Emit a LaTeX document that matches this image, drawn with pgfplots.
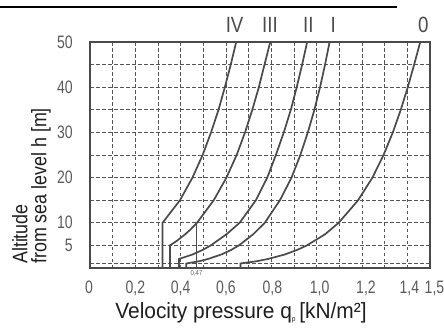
\documentclass[border=0pt]{standalone}
\usepackage{fontspec}
\setmainfont{Liberation Sans}[FakeStretch=0.85]
\newfontfamily\tickfont{Liberation Sans}[FakeStretch=0.78]
\newfontfamily\xlabfont{Liberation Sans}[FakeStretch=0.95]
\usepackage{pgfplots}
\pgfplotsset{compat=1.18}
\definecolor{ink}{HTML}{4A4A4A}
\definecolor{gridc}{HTML}{555555}
\definecolor{lbl}{HTML}{5A5A5A}
\definecolor{dark}{HTML}{1E1E1E}
\tikzset{curve/.style={draw=ink, line width=1.7bp, mark=none}}
\newcommand{\sh}[2]{\makebox[0pt]{\hspace*{#1}#2}}
\begin{document}
\begin{tikzpicture}
\useasboundingbox (-90bp,-61bp) rectangle (354bp,268bp);
\begin{axis}[
  scale only axis, width=340bp, height=226bp,
  xmin=0, xmax=1.5, ymin=0, ymax=50,
  clip=false,
  axis line style={draw=ink, line width=1.5bp},
  xtick={0,0.2,0.4,0.6,0.8,1.0,1.2,1.4,1.5},
  xticklabels={\sh{-2bp}{0},\sh{0bp}{0,2},\sh{0bp}{0,4},\sh{0bp}{0,6},\sh{2bp}{0,8},\sh{6bp}{1,0},\sh{8bp}{1,2},\sh{4bp}{1,4},\sh{9bp}{1,5}},
  minor xtick={0.1,0.3,0.5,0.7,0.9,1.1,1.3},
  ytick={5,10,20,30,40,50},
  yticklabels={5,10,20,30,40,50},
  minor ytick={1,15,25,35,45},
  grid=both,
  major grid style={draw=gridc, dash pattern=on 3.5bp off 2.5bp, line width=1bp},
  minor grid style={draw=gridc, dash pattern=on 3.5bp off 2.5bp, line width=1bp},
  major tick length=0pt, minor tick length=0pt,
  tick label style={font=\tickfont\fontsize{18bp}{18bp}\selectfont, text=lbl},
  xticklabel style={anchor=north, inner sep=0pt, yshift=-13bp},
  yticklabel style={anchor=east, inner sep=0pt, xshift=-17bp},
]
% IV
\addplot[curve] coordinates {(0.320,0) (0.320,10) (0.397,15) (0.452,20) (0.497,25) (0.534,30) (0.567,35) (0.595,40) (0.621,45) (0.645,50)};
% III
\addplot[curve] coordinates {(0.353,0) (0.353,5) (0.383,6) (0.421,7.5) (0.443,8.5) (0.472,10) (0.546,15) (0.602,20) (0.647,25) (0.684,30) (0.716,35) (0.745,40) (0.770,45) (0.795,50)};
% II
\addplot[curve] coordinates {(0.393,0) (0.393,2) (0.453,3) (0.497,4) (0.533,5) (0.603,7.5) (0.660,10) (0.732,15) (0.782,20) (0.820,25) (0.855,30) (0.886,35) (0.912,40) (0.936,45) (0.958,50)};
% I
\addplot[curve] coordinates {(0.425,0) (0.425,1) (0.482,1.5) (0.521,2) (0.580,3) (0.623,4) (0.657,5) (0.721,7.5) (0.771,10) (0.838,15) (0.889,20) (0.928,25) (0.961,30) (0.990,35) (1.015,40) (1.037,45) (1.057,50)};
% 0
\addplot[curve] coordinates {(0.664,0) (0.664,1) (0.735,1.5) (0.786,2) (0.860,3) (0.914,4) (0.957,5) (1.038,7.5) (1.097,10) (1.183,15) (1.246,20) (1.295,25) (1.336,30) (1.371,35) (1.402,40) (1.430,45) (1.457,50)};
% 0,47 marker line
\addplot[curve] coordinates {(0.47,0) (0.47,10)};
\node[anchor=north, inner sep=0pt, yshift=-2bp, text=lbl, font=\fontsize{7bp}{7bp}\selectfont] at (axis cs:0.47,0) {0,47};
\foreach \xx/\tt in {0.638/IV,0.794/III,0.963/II,1.073/I,1.47/0}{
  \edef\temp{\noexpand\node[text=ink, font=\noexpand\fontsize{22bp}{22bp}\noexpand\selectfont, inner sep=0pt] at (axis cs:\xx,53.8) {\tt};}
  \temp
}
\end{axis}
\draw[black, line width=2.5bp] (-90bp,261bp) -- (307bp,261bp);
\node[rotate=90, anchor=north west, align=left, inner sep=0pt, text=dark,
  font=\fontsize{21bp}{19bp}\selectfont] at (-78bp,4bp) {Altitude\\from sea level h [m]};
\node[text=dark, font=\xlabfont\fontsize{22bp}{22bp}\selectfont, inner sep=0pt] at (151bp,-45bp)
  {Velocity pressure q\raisebox{-3bp}{\fontsize{7bp}{7bp}\selectfont p}\,[kN/m²]};
\end{tikzpicture}
\end{document}
